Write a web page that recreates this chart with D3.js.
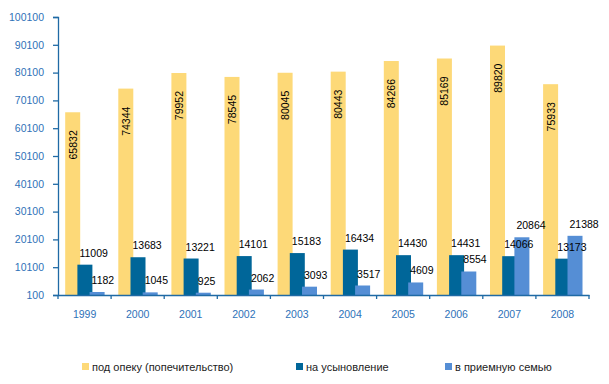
<!DOCTYPE html>
<html>
<head>
<meta charset="utf-8">
<script src="https://cdn.jsdelivr.net/npm/d3@7"></script>
<style>
  body { margin: 0; background: #fff; }
  text { font-family: "Liberation Sans", Arial, sans-serif; }
</style>
</head>
<body>
<div id="chart"></div>
<script>
const years = ["1999", "2000", "2001", "2002", "2003", "2004", "2005", "2006", "2007", "2008"];
const guardianship = [65832, 74344, 79952, 78545, 80045, 80443, 84266, 85169, 89820, 75933];
const adoption = [11009, 13683, 13221, 14101, 15183, 16434, 14430, 14431, 14066, 13173];
const fosterFamily = [1182, 1045, 925, 2062, 3093, 3517, 4609, 8554, 20864, 21388];
const seriesNames = ["под опеку (попечительство)", "на усыновление", "в приемную семью"];
const yTicks = [100, 10100, 20100, 30100, 40100, 50100, 60100, 70100, 80100, 90100, 100100];

const width = 609, height = 384;
const margin = { top: 17, right: 20, bottom: 89, left: 58 };
const colors = ["#fdd978", "#006699", "#558ed5"];
const axisColor = "#1f6aa5", labelColor = "#2e72b8";

const svg = d3.select("#chart").append("svg")
  .attr("width", width)
  .attr("height", height);

const x = d3.scaleBand()
  .domain(years)
  .range([margin.left, 589])
  .padding(0);

const y = d3.scaleLinear()
  .domain([100, 100100])
  .range([height - margin.bottom, margin.top]);

// bars overlap a little, like the excel original
const barW = 15, barStep = 12.2, barStart = 7.2;
const offset = d3.scaleLinear().domain([0, 1]).range([barStart, barStart + barStep]);

const series = [guardianship, adoption, fosterFamily];

series.forEach((vals, si) => {
  const g = svg.append("g").attr("class", "series-" + si);
  g.selectAll("rect")
    .data(vals)
    .enter().append("rect")
    .attr("x", (d, i) => x(years[i]) + offset(si))
    .attr("y", d => y(d))
    .attr("width", barW)
    .attr("height", d => y(100) - y(d))
    .attr("fill", colors[si]);
});

// labels: yellow rotated inside, others above the bar
const labels = svg.append("g").attr("font-size", "10.5px").attr("fill", "#000");

labels.selectAll("text.g")
  .data(guardianship)
  .enter().append("text")
  .attr("class", "g")
  .attr("text-anchor", "end")
  .attr("dominant-baseline", "central")
  .attr("transform", (d, i) => {
    const cx = x(years[i]) + offset(0) + barW / 2;
    return "translate(" + cx + "," + (y(d) + 18) + ") rotate(-90)";
  })
  .text(d => d);

[adoption, fosterFamily].forEach((vals, k) => {
  const si = k + 1;
  labels.selectAll("text.s" + si)
    .data(vals)
    .enter().append("text")
    .attr("class", "s" + si)
    .attr("x", (d, i) => x(years[i]) + offset(si) + 2)
    .attr("y", d => y(d) - 8)
    .text(d => d);
});

// axes
const yAxis = svg.append("g")
  .attr("transform", "translate(" + margin.left + ",0)")
  .call(d3.axisLeft(y).tickValues(yTicks).tickSize(5).tickPadding(9).tickFormat(d => d));

const xAxis = svg.append("g")
  .attr("transform", "translate(0," + y(100) + ")")
  .call(d3.axisBottom(x).tickSize(0).tickPadding(16));

// category boundary ticks on the x axis
xAxis.selectAll("line.bound")
  .data(years.concat(["end"]))
  .enter().append("line")
  .attr("class", "bound")
  .attr("x1", (d, i) => i < years.length ? x(d) : x.range()[1])
  .attr("x2", (d, i) => i < years.length ? x(d) : x.range()[1])
  .attr("y1", 0)
  .attr("y2", 4);

[yAxis, xAxis].forEach(a => {
  a.select(".domain").attr("stroke", axisColor).attr("stroke-width", 1.3);
  a.selectAll("line").attr("stroke", axisColor).attr("stroke-width", 1.3);
  a.selectAll("text")
    .attr("fill", labelColor)
    .attr("font-size", "10.5px")
    .attr("font-family", "Liberation Sans, Arial, sans-serif");
});

// legend
const legendX = [82, 296, 445];
const legend = svg.append("g").attr("transform", "translate(0,363)");
const item = legend.selectAll("g")
  .data(seriesNames)
  .enter().append("g")
  .attr("transform", (d, i) => "translate(" + legendX[i] + ",0)");
item.append("rect")
  .attr("width", 7)
  .attr("height", 7)
  .attr("fill", (d, i) => colors[i]);
item.append("text")
  .attr("x", 10)
  .attr("y", 8)
  .attr("font-size", "11px")
  .attr("fill", "#222")
  .text(d => d);
</script>
</body>
</html>
